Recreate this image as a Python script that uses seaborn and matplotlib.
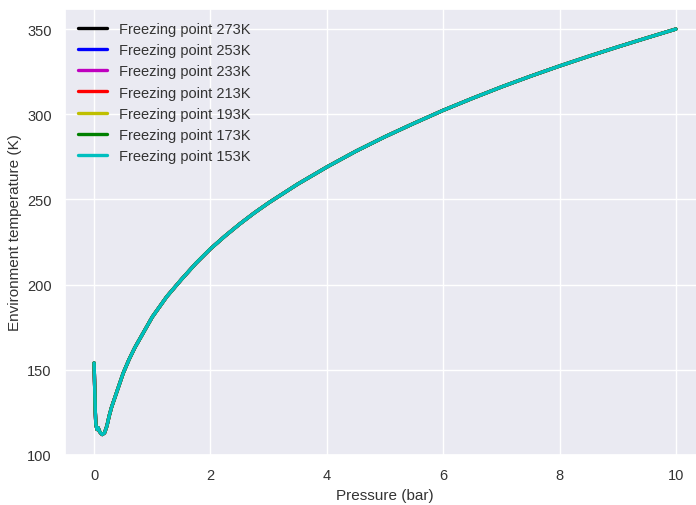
import matplotlib
matplotlib.use("Agg")
import matplotlib.pyplot as plt
import seaborn as sns
import pandas as pd

pressure = [0.0, 0.005, 0.01, 0.02, 0.03, 0.05, 0.07, 0.09, 0.11, 0.14, 0.18, 0.22, 0.26,
            0.3, 0.35, 0.4, 0.45, 0.5, 0.55, 0.6, 0.7, 0.8, 0.9, 1.0, 1.125, 1.25, 1.375,
            1.5, 1.75, 2.0, 2.25, 2.5, 2.75, 3.0, 3.25, 3.5, 3.75,
            4.0, 4.5, 5.0, 5.5, 6.0, 6.5, 7.0, 7.5, 8.0, 8.5, 9.0, 9.5, 10.0]
env_temp = [154, 147, 140, 126, 118, 115, 116, 114, 113, 112, 113, 117, 123,
            128, 133, 138, 143, 148, 152, 156, 163, 169, 175, 181, 187, 193, 198,
            203, 212.5, 221, 228.5, 235.5, 242, 248, 253.5, 259, 264,
            269, 278.3, 286.8, 294.7, 302.3, 309.3, 316, 322.3, 328.3, 334, 339.5, 344.8, 350]
freezing_points = [273, 253, 233, 213, 193, 173, 153]
colors = ["#000000", "#0000ff", "#bf00bf", "#ff0000", "#bfbf00", "#008000", "#00bfbf"]

sns.set_theme(style="darkgrid", color_codes=False)
plt.rcParams["font.family"] = ["Liberation Sans", "DejaVu Sans"]

fig = plt.figure(figsize=(6.96, 5.06), dpi=100)
ax = fig.add_axes([65 / 696, 1 - 456 / 506, 640 / 696, (456 - 9.6) / 506])

df = pd.DataFrame({"p": pressure, "T": env_temp})
for fp, c in zip(freezing_points, colors):
    sns.lineplot(data=df, x="p", y="T", color=c, linewidth=2.4,
                 label=f"Freezing point {fp}K", ax=ax, sort=False)

ax.set_xlim(-0.5, 10.5)
ax.set_ylim(100, 362)
ax.set_xticks([0, 2, 4, 6, 8, 10])
ax.set_yticks([100, 150, 200, 250, 300, 350])
ax.tick_params(labelsize=10.5, colors="#333333")
ax.set_xlabel("Pressure (bar)", fontsize=11, color="#333333")
ax.set_ylabel("Environment temperature (K)", fontsize=11, color="#333333")
leg = ax.legend(loc="upper left", frameon=False, fontsize=10.5)
for t in leg.get_texts():
    t.set_color("#333333")

fig.savefig("out.png", dpi=100)
